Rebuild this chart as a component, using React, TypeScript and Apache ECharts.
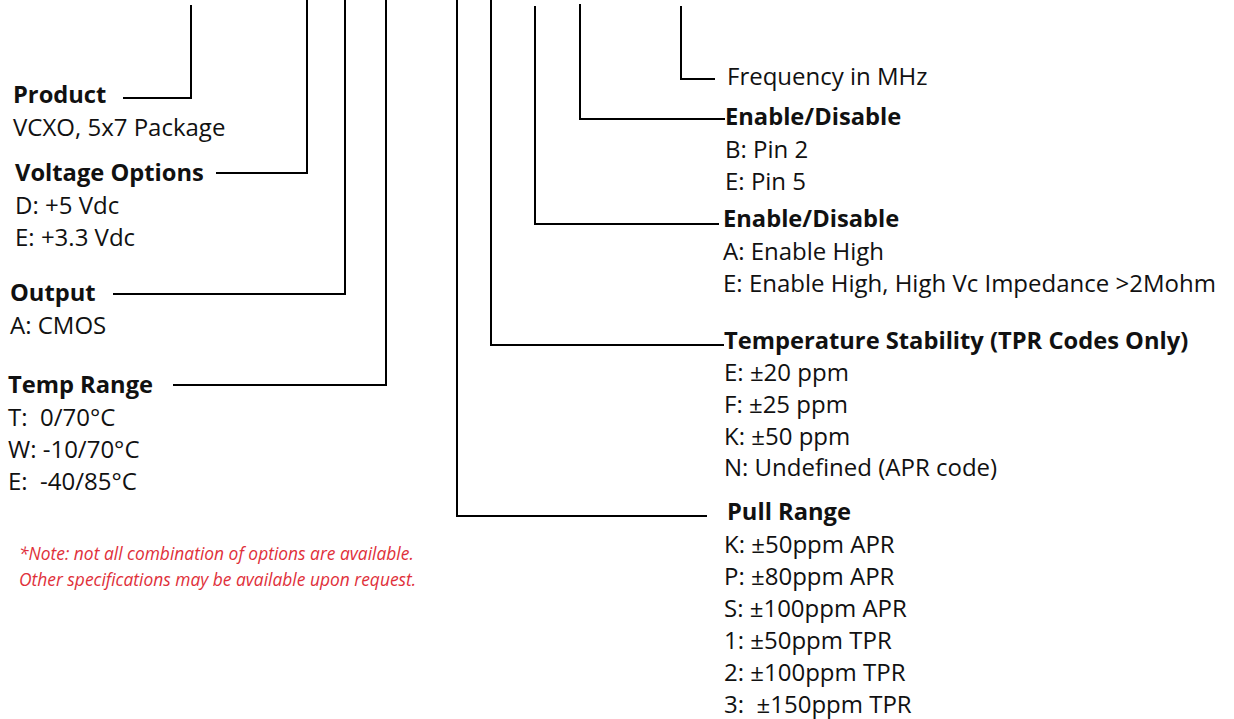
import React, { useEffect, useRef } from "react";
import * as echarts from "echarts";

// ---- Content (data) ----
const productTitle = "Product";
const productOptions = ["VCXO, 5x7 Package"];
const voltageTitle = "Voltage Options";
const voltageOptions = ["D: +5 Vdc", "E: +3.3 Vdc"];
const outputTitle = "Output";
const outputOptions = ["A: CMOS"];
const tempRangeTitle = "Temp Range";
const tempRangeOptions = ["T:  0/70°C", "W: -10/70°C", "E:  -40/85°C"];
const frequencyLabel = "Frequency in MHz";
const enable1Title = "Enable/Disable";
const enable1Options = ["B: Pin 2", "E: Pin 5"];
const enable2Title = "Enable/Disable";
const enable2Options = ["A: Enable High", "E: Enable High, High Vc Impedance >2Mohm"];
const tempStabilityTitle = "Temperature Stability (TPR Codes Only)";
const tempStabilityOptions = ["E: ±20 ppm", "F: ±25 ppm", "K: ±50 ppm", "N: Undefined (APR code)"];
const pullRangeTitle = "Pull Range";
const pullRangeOptions = [
  "K: ±50ppm APR",
  "P: ±80ppm APR",
  "S: ±100ppm APR",
  "1: ±50ppm TPR",
  "2: ±100ppm TPR",
  "3:  ±150ppm TPR",
];
const noteLines = [
  "*Note: not all combination of options are available.",
  "Other specifications may be available upon request.",
];

// ---- Layout (positions / styles) ----
const FONT = "'Open Sans', 'Noto Sans', sans-serif";
const TITLE_SIZE = 23.7;
const ITEM_SIZE = 24;
const LINE_GAP = 32;

type Block = {
  title: string;
  items: string[];
  tx: number;
  ty: number;
  ix: number;
  gap?: number;
  conn: number[][];
};

const blocks: Block[] = [
  { title: productTitle, items: productOptions, tx: 13, ty: 94, ix: 13, conn: [[123, 98], [191, 98], [191, 5]] },
  { title: voltageTitle, items: voltageOptions, tx: 15, ty: 172, ix: 15, conn: [[216, 173], [307, 173], [307, 0]] },
  { title: outputTitle, items: outputOptions, tx: 10, ty: 292, ix: 10, conn: [[113, 294], [345, 294], [345, 0]] },
  { title: tempRangeTitle, items: tempRangeOptions, tx: 8, ty: 384, ix: 8, conn: [[173, 385], [386, 385], [386, 0]] },
  { title: enable1Title, items: enable1Options, tx: 725, ty: 116, ix: 725, conn: [[725, 119], [580, 119], [580, 4]] },
  { title: enable2Title, items: enable2Options, tx: 723, ty: 218, ix: 723, conn: [[719, 224], [535, 224], [535, 6]] },
  { title: tempStabilityTitle, items: tempStabilityOptions, tx: 724, ty: 340, ix: 724, gap: 31.7, conn: [[724, 345], [491, 345], [491, 0]] },
  { title: pullRangeTitle, items: pullRangeOptions, tx: 727, ty: 511, ix: 724, conn: [[707, 516], [457, 516], [457, 0]] },
];

const freqLayout = { x: 727, y: 75, conn: [[715, 79], [681, 79], [681, 6]] };
const noteLayout = { x: 19, y: 553, gap: 26, color: "#e0303a", size: 17.4 };

function textEl(text: string, x: number, y: number, size: number, bold: boolean, color = "#111", italic = false) {
  return {
    type: "text",
    x,
    y,
    silent: true,
    style: {
      text,
      fill: color,
      font: `${italic ? "italic " : ""}${bold ? "bold " : ""}${size}px ${FONT}`,
      align: "left",
      verticalAlign: "middle",
      textAlign: "left",
      textVerticalAlign: "middle",
    },
  };
}

function lineEl(points: number[][]) {
  return {
    type: "polyline",
    silent: true,
    shape: { points },
    style: { stroke: "#000", lineWidth: 2, fill: null },
  };
}

export default function App() {
  const ref = useRef<HTMLDivElement>(null);
  useEffect(() => {
    document.body.style.margin = "0";
    if (!ref.current) return;
    const chart = echarts.init(ref.current, null, { renderer: "svg" });
    const elements: any[] = [];
    blocks.forEach((b) => {
      elements.push(lineEl(b.conn));
      elements.push(textEl(b.title, b.tx, b.ty, TITLE_SIZE, true));
      const gap = b.gap ?? LINE_GAP;
      b.items.forEach((it, i) => {
        elements.push(textEl(it, b.ix, b.ty + gap * (i + 1), ITEM_SIZE, false));
      });
    });
    elements.push(lineEl(freqLayout.conn));
    elements.push(textEl(frequencyLabel, freqLayout.x, freqLayout.y, ITEM_SIZE, false));
    noteLines.forEach((t, i) => {
      elements.push(textEl(t, noteLayout.x, noteLayout.y + noteLayout.gap * i, noteLayout.size, false, noteLayout.color, true));
    });
    chart.setOption({
      animation: false,
      backgroundColor: "#ffffff",
      graphic: { elements },
    });
    return () => chart.dispose();
  }, []);
  return <div ref={ref} style={{ width: 1234, height: 719 }} />;
}
